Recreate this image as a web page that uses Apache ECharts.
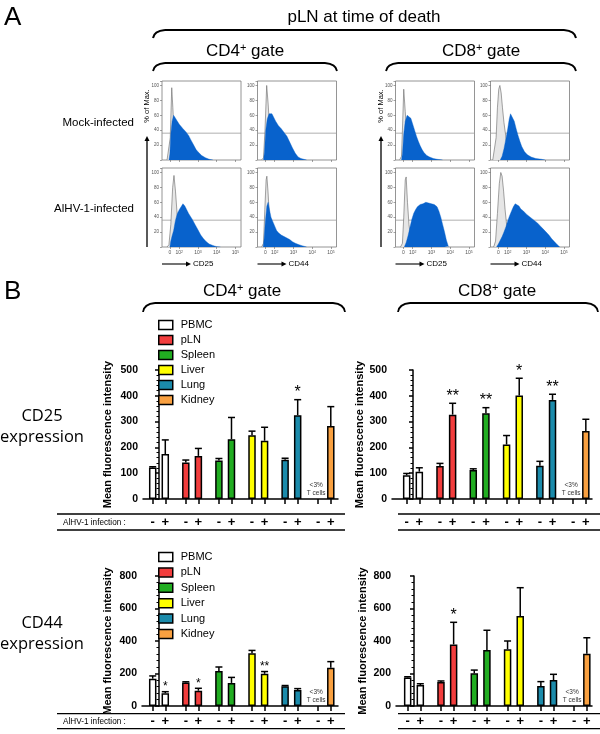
<!DOCTYPE html>
<html>
<head>
<meta charset="utf-8">
<script src="https://cdn.jsdelivr.net/npm/echarts@6.0.0/dist/echarts.min.js"></script>
<style>
html,body{margin:0;padding:0;background:#fff;}
#chart{width:600px;height:734px;}
</style>
</head>
<body>
<div id="chart"></div>
<script>
// ================= DATA =================
const tissues = ['PBMC', 'pLN', 'Spleen', 'Liver', 'Lung', 'Kidney'];
const infectionSigns = ['-', '+'];
const lowNote = '<3%\nT cells';

// Part B – mean fluorescence intensity, mock (-) and AlHV-1 infected (+), upper error
const cd4Cd25Mock    = [122, 141, 149, 247, 152, null];
const cd4Cd25MockErr = [3, 10, 8, 16, 6, null];
const cd4Cd25Inf     = [174, 167, 232, 226, 325, 283];
const cd4Cd25InfErr  = [55, 29, 84, 52, 60, 75];
const cd4Cd25Sig     = ['', '', '', '', '*', ''];

const cd8Cd25Mock    = [92, 128, 112, 211, 129, null];
const cd8Cd25MockErr = [7, 10, 5, 35, 17, null];
const cd8Cd25Inf     = [106, 327, 332, 401, 384, 264];
const cd8Cd25InfErr  = [15, 44, 22, 67, 22, 45];
const cd8Cd25Sig     = ['', '**', '**', '*', '**', ''];

const cd4Cd44Mock    = [168, 144, 215, 324, 122, null];
const cd4Cd44MockErr = [17, 5, 25, 18, 4, null];
const cd4Cd44Inf     = [79, 94, 142, 198, 98, 236];
const cd4Cd44InfErr  = [9, 15, 34, 14, 9, 37];
const cd4Cd44Sig     = ['*', '*', '', '**', '', ''];

const cd8Cd44Mock    = [176, 148, 201, 349, 123, null];
const cd8Cd44MockErr = [4, 6, 20, 51, 27, null];
const cd8Cd44Inf     = [129, 379, 345, 554, 160, 322];
const cd8Cd44InfErr  = [8, 136, 121, 174, 35, 98];
const cd8Cd44Sig     = ['', '*', '', '', '', ''];

const cd25AxisMax = 500, cd25AxisStep = 100;
const cd44AxisMax = 800, cd44AxisStep = 200;

// Part A – histograms: [log10 fluorescence, % of max]
const histTickValues = [1.5, 2, 3, 4, 5];
const histTickLabels = ['0', '10^2', '10^3', '10^4', '10^5'];
const gateLevel = 36;

const cd4Cd25MockIso   = [[1.35,0],[1.45,2],[1.52,30],[1.6,97],[1.66,70],[1.72,40],[1.8,15],[1.9,4],[2.0,0]];
const cd4Cd25MockStain = [[1.45,0],[1.5,8],[1.55,35],[1.62,52],[1.7,60],[1.8,58],[1.9,52],[2.0,48],[2.1,46],[2.2,42],[2.35,38],[2.5,33],[2.6,28],[2.75,21],[2.9,14],[3.0,11],[3.2,6],[3.4,3],[3.6,1],[3.8,0]];

const cd4Cd44MockIso   = [[1.3,0],[1.4,3],[1.48,40],[1.57,100],[1.65,75],[1.72,45],[1.8,20],[1.9,5],[2.0,0]];
const cd4Cd44MockStain = [[1.4,0],[1.45,10],[1.52,40],[1.6,55],[1.7,62],[1.85,62],[1.95,57],[2.05,52],[2.2,46],[2.35,42],[2.5,37],[2.65,32],[2.8,24],[2.95,16],[3.1,9],[3.25,4],[3.4,2],[3.7,0]];

const cd8Cd25MockIso   = [[1.3,0],[1.4,5],[1.45,40],[1.52,95],[1.6,65],[1.68,35],[1.76,12],[1.85,3],[1.95,0]];
const cd8Cd25MockStain = [[1.4,0],[1.45,8],[1.52,35],[1.6,52],[1.7,60],[1.8,60],[1.9,56],[2.0,48],[2.1,40],[2.2,32],[2.3,25],[2.4,19],[2.5,14],[2.6,10],[2.75,6],[2.9,4],[3.1,2],[3.3,1],[3.6,0]];

const cd8Cd44MockIso   = [[1.2,0],[1.3,2],[1.38,30],[1.45,70],[1.52,95],[1.58,100],[1.65,90],[1.72,70],[1.8,50],[1.88,35],[1.95,20],[2.05,8],[2.15,2],[2.3,0]];
const cd8Cd44MockStain = [[1.6,0],[1.7,5],[1.8,15],[1.9,28],[2.0,42],[2.08,55],[2.15,62],[2.25,60],[2.35,52],[2.45,42],[2.55,33],[2.65,25],[2.75,18],[2.9,11],[3.05,7],[3.25,4],[3.5,2],[3.8,1],[4.0,0]];

const cd4Cd25InfIso    = [[1.35,0],[1.45,3],[1.55,30],[1.65,80],[1.72,96],[1.8,75],[1.9,40],[2.0,15],[2.1,3],[2.2,0]];
const cd4Cd25InfStain  = [[1.5,0],[1.55,8],[1.62,15],[1.7,22],[1.8,36],[1.9,45],[2.0,50],[2.1,54],[2.2,58],[2.3,55],[2.4,50],[2.5,45],[2.6,41],[2.7,37],[2.85,30],[3.0,23],[3.15,16],[3.3,11],[3.45,7],[3.6,4],[3.8,2],[4.0,0.5],[4.2,0]];

const cd4Cd44InfIso    = [[1.3,0],[1.4,5],[1.47,50],[1.54,90],[1.58,95],[1.64,75],[1.72,40],[1.8,15],[1.9,3],[2.0,0]];
const cd4Cd44InfStain  = [[1.38,0],[1.43,10],[1.5,35],[1.58,55],[1.65,60],[1.72,50],[1.8,40],[1.9,34],[2.0,28],[2.1,22],[2.2,19],[2.35,16],[2.5,14],[2.65,12],[2.8,10],[2.95,7],[3.1,5],[3.3,3],[3.5,1.5],[3.7,0]];

const cd8Cd25InfIso    = [[1.35,0],[1.45,5],[1.52,40],[1.6,90],[1.65,94],[1.72,60],[1.8,30],[1.9,10],[2.0,2],[2.1,0]];
const cd8Cd25InfStain  = [[1.55,0],[1.65,6],[1.75,15],[1.85,26],[1.95,37],[2.05,45],[2.15,50],[2.25,54],[2.4,57],[2.55,58],[2.7,60],[2.85,59],[3.0,58],[3.15,57],[3.3,54],[3.4,48],[3.5,40],[3.6,30],[3.7,20],[3.8,9],[3.9,1],[3.95,0]];

const cd8Cd44InfIso    = [[1.25,0],[1.35,8],[1.45,45],[1.55,85],[1.63,100],[1.7,95],[1.78,75],[1.86,50],[1.94,30],[2.02,15],[2.1,5],[2.2,0]];
const cd8Cd44InfStain  = [[1.4,0],[1.5,4],[1.6,9],[1.7,14],[1.8,20],[1.9,27],[2.0,35],[2.1,42],[2.2,48],[2.3,54],[2.4,58],[2.5,59],[2.6,55],[2.7,51],[2.85,48],[3.0,44],[3.15,41],[3.3,38],[3.45,35],[3.6,32],[3.75,28],[3.9,24],[4.05,20],[4.2,16],[4.35,11],[4.5,7],[4.65,3],[4.78,0]];

// ================= STYLE / LAYOUT =================
const F = '"Liberation Sans", Arial, sans-serif';
const tissueColors = ['#ffffff', '#f23d3d', '#21ad21', '#ffff00', '#1b8bab', '#f9a040'];
const histBlue = '#0862cc';
const HX_MIN = 1.08, HX_MAX = 5.3;

const grids = [], xAxes = [], yAxes = [], series = [], elements = [];

const histPanels = [
  {iso: cd4Cd25MockIso, stain: cd4Cd25MockStain, col: 0, row: 0},
  {iso: cd4Cd44MockIso, stain: cd4Cd44MockStain, col: 1, row: 0},
  {iso: cd8Cd25MockIso, stain: cd8Cd25MockStain, col: 2, row: 0},
  {iso: cd8Cd44MockIso, stain: cd8Cd44MockStain, col: 3, row: 0},
  {iso: cd4Cd25InfIso,  stain: cd4Cd25InfStain,  col: 0, row: 1},
  {iso: cd4Cd44InfIso,  stain: cd4Cd44InfStain,  col: 1, row: 1},
  {iso: cd8Cd25InfIso,  stain: cd8Cd25InfStain,  col: 2, row: 1},
  {iso: cd8Cd44InfIso,  stain: cd8Cd44InfStain,  col: 3, row: 1}
];
const boxLefts = [162, 257.5, 395.5, 490.5];
const rowTops = [81, 168];
const boxW = 79, boxH = 79;

function tickLabelRich(v) {
  const i = histTickValues.findIndex(t => Math.abs(t - v) < 1e-6);
  if (i < 0) return '';
  const s = histTickLabels[i];
  if (s.indexOf('^') < 0) return '{b|' + s + '}';
  const parts = s.split('^');
  return '{b|' + parts[0] + '}{s|' + parts[1] + '}';
}

histPanels.forEach(p => {
  const gi = grids.length;
  grids.push({left: boxLefts[p.col], top: rowTops[p.row], width: boxW, height: boxH,
    show: true, borderColor: '#7a7a7a', borderWidth: 0.8, backgroundColor: 'transparent'});
  xAxes.push({type: 'value', gridIndex: gi, min: HX_MIN, max: HX_MAX,
    axisLine: {show: false}, splitLine: {show: false},
    axisTick: {show: true, customValues: histTickValues, length: 2, lineStyle: {color: '#666', width: 0.6}},
    axisLabel: {show: p.row === 1, customValues: histTickValues, formatter: tickLabelRich, margin: 3,
      rich: {b: {fontSize: 5, color: '#555', fontFamily: F}, s: {fontSize: 3.5, color: '#555', fontFamily: F, verticalAlign: 'top'}}}
  });
  yAxes.push({type: 'value', gridIndex: gi, min: 0, max: 106, interval: 20,
    axisLine: {show: false}, splitLine: {show: false},
    axisTick: {show: true, length: 2, lineStyle: {color: '#666', width: 0.6}},
    axisLabel: {fontSize: 4.5, color: '#555', margin: 3, fontFamily: F,
      formatter: v => (v > 0 && v <= 100 ? String(v) : '')}
  });
  series.push({type: 'line', xAxisIndex: gi, yAxisIndex: gi, data: [[HX_MIN, gateLevel], [HX_MAX, gateLevel]],
    symbol: 'none', lineStyle: {color: '#9a9a9a', width: 0.8}, z: 1, silent: true});
  series.push({type: 'line', xAxisIndex: gi, yAxisIndex: gi, data: p.iso, symbol: 'none',
    lineStyle: {color: '#666', width: 0.6}, areaStyle: {color: '#e6e6e6', opacity: 1}, z: 2, silent: true});
  series.push({type: 'line', xAxisIndex: gi, yAxisIndex: gi, data: p.stain, symbol: 'none',
    lineStyle: {color: histBlue, width: 0.4}, areaStyle: {color: histBlue, opacity: 1}, z: 3, silent: true});
});

// ---- bar charts ----
const HALF = 0.19;
const barCharts = [
  {mock: cd4Cd25Mock, mockErr: cd4Cd25MockErr, inf: cd4Cd25Inf, infErr: cd4Cd25InfErr, sig: cd4Cd25Sig,
   left: 143, top: 370, width: 195, height: 129, unit: 33.1, firstCenter: 159, yMax: cd25AxisMax, yStep: cd25AxisStep,
   signMargin: 17, starSize: 16, nameGap: 30},
  {mock: cd8Cd25Mock, mockErr: cd8Cd25MockErr, inf: cd8Cd25Inf, infErr: cd8Cd25InfErr, sig: cd8Cd25Sig,
   left: 392, top: 370, width: 200, height: 129, unit: 33.3, firstCenter: 413, yMax: cd25AxisMax, yStep: cd25AxisStep,
   signMargin: 17, starSize: 16, nameGap: 24},
  {mock: cd4Cd44Mock, mockErr: cd4Cd44MockErr, inf: cd4Cd44Inf, infErr: cd4Cd44InfErr, sig: cd4Cd44Sig,
   left: 142, top: 576, width: 196, height: 130, unit: 33.1, firstCenter: 159, yMax: cd44AxisMax, yStep: cd44AxisStep,
   signMargin: 9, starSize: 12, nameGap: 29},
  {mock: cd8Cd44Mock, mockErr: cd8Cd44MockErr, inf: cd8Cd44Inf, infErr: cd8Cd44InfErr, sig: cd8Cd44Sig,
   left: 396, top: 576, width: 196, height: 130, unit: 33.3, firstCenter: 414, yMax: cd44AxisMax, yStep: cd44AxisStep,
   signMargin: 9, starSize: 16, nameGap: 28}
];

barCharts.forEach(c => {
  const gi = grids.length;
  const xMin = -(c.firstCenter - c.left) / c.unit;
  const xMax = xMin + c.width / c.unit;
  const tickPos = [];
  tissues.forEach((t, i) => { tickPos.push(i - HALF); tickPos.push(i + HALF); });
  grids.push({left: c.left, top: c.top, width: c.width, height: c.height});
  xAxes.push({type: 'value', gridIndex: gi, min: xMin, max: xMax,
    axisLine: {show: true, onZero: false, lineStyle: {color: '#000', width: 1.5}},
    splitLine: {show: false},
    axisTick: {show: true, customValues: tickPos, length: 5, lineStyle: {color: '#000', width: 1.5}},
    axisLabel: {show: true, customValues: tickPos, margin: c.signMargin, fontSize: 13, fontWeight: 'bold',
      color: '#000', fontFamily: F,
      formatter: v => {
        const k = tickPos.findIndex(t => Math.abs(t - v) < 1e-6);
        return k < 0 ? '' : infectionSigns[k % 2];
      }}
  });
  yAxes.push({type: 'value', gridIndex: gi, min: 0, max: c.yMax, interval: c.yStep,
    axisLine: {show: true, lineStyle: {color: '#000', width: 1.5}},
    axisTick: {show: true, length: 4, lineStyle: {color: '#000', width: 1.5}},
    minorTick: {show: true, splitNumber: 5, length: 2.5, lineStyle: {color: '#000', width: 1}},
    splitLine: {show: false},
    axisLabel: {fontSize: 10.5, fontWeight: 'bold', color: '#000', margin: 5, fontFamily: F},
    name: 'Mean fluorescence intensity', nameLocation: 'middle', nameGap: c.nameGap,
    nameTextStyle: {fontWeight: 'bold', fontSize: 11, color: '#000', fontFamily: F}
  });
  const bars = [], marks = [], meta = [];
  tissues.forEach((t, i) => {
    [[c.mock[i], c.mockErr[i], ''], [c.inf[i], c.infErr[i], c.sig[i]]].forEach((d, s) => {
      const x = i + (s === 0 ? -HALF : HALF);
      if (d[0] == null) {
        marks.push([x, 0, 0]); meta.push({note: lowNote});
      } else {
        bars.push({value: [x, d[0]], itemStyle: {color: tissueColors[i]}});
        marks.push([x, d[0], d[0] + d[1]]); meta.push({sig: d[2]});
      }
    });
  });
  series.push({type: 'bar', xAxisIndex: gi, yAxisIndex: gi, data: bars, barWidth: 7.5,
    itemStyle: {borderColor: '#000', borderWidth: 1.5}, silent: true, z: 2});
  series.push({type: 'custom', xAxisIndex: gi, yAxisIndex: gi, data: marks, silent: true, z: 3,
    renderItem: (params, api) => {
      const m = meta[params.dataIndex];
      const x = api.value(0);
      if (m.note) {
        const p = api.coord([x, 0]);
        return {type: 'text', style: {text: m.note, x: p[0] - 2, y: p[1] - 2, align: 'center', verticalAlign: 'bottom',
          fontSize: 6.5, fontFamily: F, fill: '#333', lineHeight: 8}};
      }
      const p0 = api.coord([x, api.value(1)]);
      const p1 = api.coord([x, api.value(2)]);
      const st = {stroke: '#000', lineWidth: 1.5};
      const ch = [
        {type: 'line', shape: {x1: p0[0], y1: p0[1], x2: p1[0], y2: p1[1]}, style: st},
        {type: 'line', shape: {x1: p1[0] - 3.5, y1: p1[1], x2: p1[0] + 3.5, y2: p1[1]}, style: st}
      ];
      if (m.sig) ch.push({type: 'text', style: {text: m.sig, x: p1[0], y: p1[1] + 1, align: 'center',
        verticalAlign: 'bottom', fontSize: c.starSize, fontFamily: F, fill: '#000'}});
      return {type: 'group', children: ch};
    }});
});

// dummy series for the legends
tissues.forEach((t, i) => {
  series.push({type: 'custom', name: t, coordinateSystem: 'none', data: [], renderItem: () => null,
    itemStyle: {color: tissueColors[i]}});
});

// ---- decorations ----
function T(text, x, y, size, o) {
  o = o || {};
  return {type: 'text', x: x, y: y, rotation: o.rot || 0, silent: true,
    style: Object.assign({text: text, x: 0, y: 0, fontSize: size, fontFamily: o.family || F,
      fontWeight: o.weight || 'normal', fill: o.color || '#000', align: o.align || 'center',
      verticalAlign: o.va || 'middle'}, o.extra || {})};
}
function L(x1, y1, x2, y2, w, col) {
  return {type: 'line', silent: true, shape: {x1, y1, x2, y2}, style: {stroke: col || '#000', lineWidth: w || 1.3}};
}
function brace(x0, x1, y, h, w) {
  const r = 12, st = {stroke: '#000', lineWidth: w || 1.8, fill: 'none'};
  return [
    {type: 'bezierCurve', silent: true, shape: {x1: x0, y1: y + h, x2: x0 + r, y2: y, cpx1: x0 + 1, cpy1: y + 1}, style: st},
    {type: 'line', silent: true, shape: {x1: x0 + r, y1: y, x2: x1 - r, y2: y}, style: st},
    {type: 'bezierCurve', silent: true, shape: {x1: x1 - r, y1: y, x2: x1, y2: y + h, cpx1: x1 - 1, cpy1: y + 1}, style: st}
  ];
}
function arrowH(x0, x1, y) {
  return [L(x0, y, x1 - 3, y, 1.1), {type: 'polygon', silent: true,
    shape: {points: [[x1, y], [x1 - 5, y - 2.5], [x1 - 5, y + 2.5]]}, style: {fill: '#000'}}];
}
function arrowV(x, yb, yt) {
  return [L(x, yb, x, yt + 3, 1.3), {type: 'polygon', silent: true,
    shape: {points: [[x, yt], [x - 2.5, yt + 5], [x + 2.5, yt + 5]]}, style: {fill: '#000'}}];
}
const gateRich = {a: {fontSize: 17, fontFamily: F}, s: {fontSize: 11, fontFamily: F, verticalAlign: 'top'}};

elements.push(T('A', 4, 18, 26, {align: 'left'}));
elements.push(T('pLN at time of death', 364, 17, 17));
elements.push(...brace(153, 576, 30, 8, 2));
elements.push(T('{a|CD4}{s|+}{a| gate}', 245, 51, 17, {extra: {rich: gateRich}}));
elements.push(T('{a|CD8}{s|+}{a| gate}', 481, 51, 17, {extra: {rich: gateRich}}));
elements.push(...brace(153, 337, 63, 8));
elements.push(...brace(386, 576, 63, 8));
elements.push(T('Mock-infected', 134, 123, 11.5, {align: 'right'}));
elements.push(T('AlHV-1-infected', 134, 209, 11.5, {align: 'right'}));
elements.push(T('% of Max.', 147, 106, 7.5, {rot: Math.PI / 2}));
elements.push(T('% of Max.', 381, 106, 7.5, {rot: Math.PI / 2}));
elements.push(...arrowV(147, 247, 136));
elements.push(...arrowV(381, 247, 136));
const markers = ['CD25', 'CD44', 'CD25', 'CD44'];
boxLefts.forEach((bx, i) => {
  elements.push(...arrowH(bx, bx + 29, 264));
  elements.push(T(markers[i], bx + 31, 264, 8, {align: 'left'}));
});

elements.push(T('B', 4, 292, 26, {align: 'left'}));
elements.push(T('{a|CD4}{s|+}{a| gate}', 242, 291, 17, {extra: {rich: gateRich}}));
elements.push(T('{a|CD8}{s|+}{a| gate}', 497, 291, 17, {extra: {rich: gateRich}}));
elements.push(...brace(143, 345, 303, 9));
elements.push(...brace(398, 598, 303, 9));

const exprFont = '"Open Sans", sans-serif';
elements.push(T('CD25', 42, 416, 16.5, {family: exprFont}));
elements.push(T('expression', 42, 437, 16.5, {family: exprFont}));
elements.push(T('CD44', 42, 623, 16.5, {family: exprFont}));
elements.push(T('expression', 42, 644, 16.5, {family: exprFont}));

[[514, 530, 523], [713.7, 728.7, 722]].forEach(r => {
  elements.push(L(57, r[0], 345, r[0], 1.3));
  elements.push(L(57, r[1], 345, r[1], 1.3));
  elements.push(L(398, r[0], 600, r[0], 1.3));
  elements.push(L(398, r[1], 600, r[1], 1.3));
  elements.push(T('AlHV-1 infection :', 63, r[2], 8.2, {align: 'left'}));
});

const legendCommon = {data: tissues, orient: 'vertical', left: 158, padding: 0, itemWidth: 14, itemHeight: 9,
  icon: 'rect', selectedMode: false, itemStyle: {borderColor: '#000', borderWidth: 1.5},
  textStyle: {fontSize: 11, color: '#000', fontFamily: F, lineHeight: 13, padding: [0, 0, 0, 3]}};

const option = {
  animation: false,
  backgroundColor: '#fff',
  grid: grids, xAxis: xAxes, yAxis: yAxes, series: series,
  legend: [Object.assign({}, legendCommon, {top: 318.5, itemGap: 2}),
           Object.assign({}, legendCommon, {top: 550.5, itemGap: 2.4})],
  graphic: {elements: elements}
};

const chart = echarts.init(document.getElementById('chart'), null, {renderer: 'canvas'});
chart.setOption(option);
</script>
</body>
</html>
